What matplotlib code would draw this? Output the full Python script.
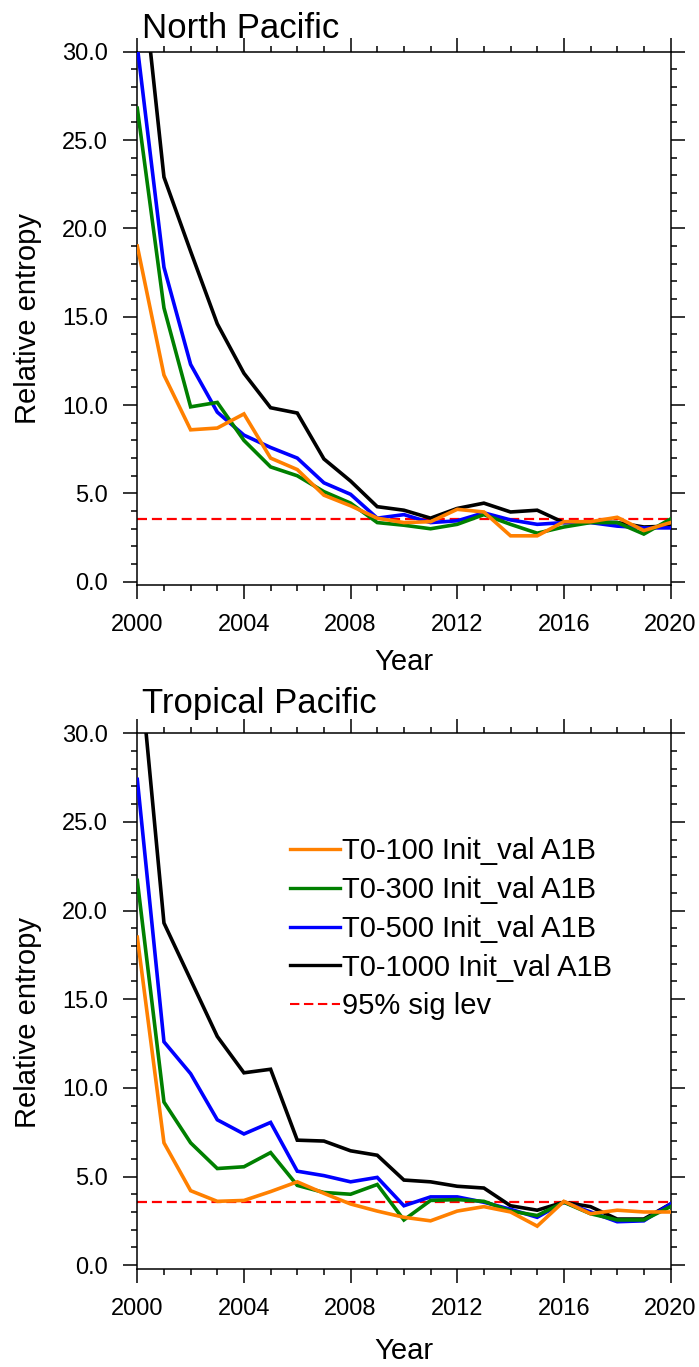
import matplotlib
matplotlib.use("Agg")
import matplotlib.pyplot as plt
from matplotlib.ticker import MultipleLocator, FormatStrFormatter

plt.rcParams['font.family'] = ['Liberation Sans', 'DejaVu Sans']

years = list(range(2000, 2021))

# North Pacific relative entropy
np_t100 = [19.0, 11.7, 8.6, 8.7, 9.5, 7.0, 6.35, 4.9, 4.3, 3.6, 3.35, 3.4, 4.1, 3.95, 2.6, 2.6, 3.4, 3.4, 3.65, 2.9, 3.35]
np_t300 = [26.8, 15.5, 9.9, 10.15, 8.0, 6.5, 6.0, 5.1, 4.45, 3.35, 3.2, 3.0, 3.25, 3.8, 3.25, 2.75, 3.1, 3.35, 3.35, 2.7, 3.55]
np_t500 = [30.3, 17.8, 12.3, 9.6, 8.3, 7.6, 7.0, 5.6, 4.95, 3.6, 3.8, 3.35, 3.45, 3.9, 3.5, 3.25, 3.35, 3.35, 3.15, 3.05, 3.05]
np_t1000 = [37.0, 22.9, 18.7, 14.6, 11.8, 9.85, 9.55, 6.95, 5.7, 4.25, 4.05, 3.6, 4.15, 4.45, 3.95, 4.05, 3.35, 3.4, 3.35, 3.1, 3.15]

# Tropical Pacific relative entropy
tp_t100 = [18.5, 6.9, 4.2, 3.6, 3.65, 4.15, 4.7, 4.05, 3.45, 3.05, 2.7, 2.5, 3.05, 3.3, 3.0, 2.2, 3.6, 2.9, 3.1, 3.0, 3.0]
tp_t300 = [21.7, 9.2, 6.9, 5.45, 5.55, 6.35, 4.5, 4.1, 4.0, 4.55, 2.55, 3.65, 3.7, 3.6, 3.05, 2.8, 3.55, 2.9, 2.55, 2.55, 3.3]
tp_t500 = [27.4, 12.6, 10.8, 8.2, 7.4, 8.05, 5.3, 5.05, 4.7, 4.95, 3.35, 3.85, 3.85, 3.55, 3.15, 2.7, 3.55, 3.0, 2.45, 2.5, 3.45]
tp_t1000 = [35.3, 19.3, 16.1, 12.9, 10.85, 11.05, 7.05, 7.0, 6.45, 6.2, 4.8, 4.7, 4.45, 4.35, 3.35, 3.1, 3.55, 3.3, 2.6, 2.6, 3.45]

sig_level = 3.56

series_labels = ["T0-100 Init_val A1B", "T0-300 Init_val A1B",
                 "T0-500 Init_val A1B", "T0-1000 Init_val A1B"]
series_colors = ["#ff8000", "#008000", "#0000ff", "#000000"]
sig_label = "95% sig lev"
panel_titles = ["North Pacific", "Tropical Pacific"]

W, H = 699, 1367
fig = plt.figure(figsize=(W / 100, H / 100), dpi=100)

ax_top = fig.add_axes([137.3 / W, 1 - 585.3 / H, 533.2 / W, 533.6 / H])
ax_bot = fig.add_axes([137.3 / W, 1 - 1268.7 / H, 533.2 / W, 535.4 / H])

panels = [
    (ax_top, [np_t100, np_t300, np_t500, np_t1000], panel_titles[0], 1.0257, -0.158, 0.5),
    (ax_bot, [tp_t100, tp_t300, tp_t500, tp_t1000], panel_titles[1], 1.0374, -0.168, 0.46),
]

for ax, data, title, title_y, xlab_y, ylab_y in panels:
    sig = ax.plot([years[0], years[-1]], [sig_level, sig_level], color="#ff0000",
                  lw=1.6, linestyle=(0, (4.5, 2.2)), zorder=2)[0]
    handles = [None] * 4
    for i in [3, 2, 1, 0]:
        handles[i] = ax.plot(years, data[i], color=series_colors[i], lw=2.6,
                             solid_joinstyle="miter", zorder=3 + (3 - i))[0]

    ax.set_xlim(2000, 2020)
    ax.set_ylim(-0.2, 30)
    ax.xaxis.set_major_locator(MultipleLocator(4))
    ax.xaxis.set_minor_locator(MultipleLocator(1))
    ax.yaxis.set_major_locator(MultipleLocator(5))
    ax.yaxis.set_minor_locator(MultipleLocator(1))
    ax.yaxis.set_major_formatter(FormatStrFormatter("%.1f"))
    ax.set_yticks([0, 5, 10, 15, 20, 25, 30])

    for s in ax.spines.values():
        s.set_linewidth(1.1)
    ax.tick_params(which="both", direction="out", top=True, right=True,
                   width=1.1, labelsize=17)
    ax.tick_params(which="major", length=10, pad=11)
    ax.tick_params(which="minor", length=4.5)

    ax.set_xlabel("Year", fontsize=21)
    ax.xaxis.label.set_verticalalignment("baseline")
    ax.xaxis.set_label_coords(0.5, xlab_y)
    ax.set_ylabel("Relative entropy", fontsize=21)
    ax.yaxis.label.set_verticalalignment("baseline")
    ax.yaxis.set_label_coords(-0.19, ylab_y)

    ax.text(0.009, title_y, title, transform=ax.transAxes, fontsize=25,
            ha="left", va="baseline")

    if ax is ax_bot:
        leg = ax.legend(handles + [sig], series_labels + [sig_label],
                        loc="upper left", bbox_to_anchor=(0.286, 0.806),
                        frameon=False, fontsize=21, handlelength=1.71,
                        handletextpad=0.07, labelspacing=0.37,
                        borderpad=0, borderaxespad=0)
        for line in leg.get_lines():
            line.set_linewidth(2.4)
        leg.get_lines()[-1].set_linewidth(1.5)

fig.savefig("out.png", dpi=100)
